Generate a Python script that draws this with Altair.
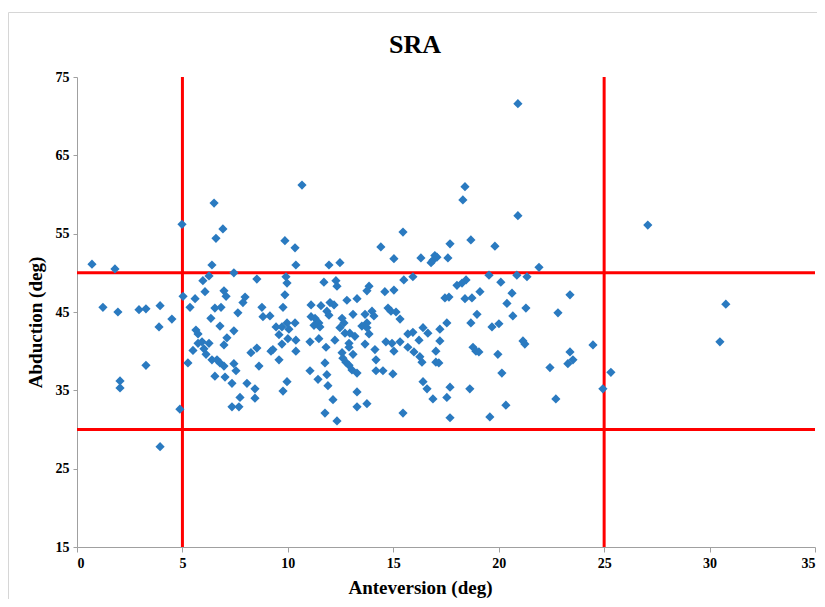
import altair as alt
import pandas as pd

anteversion = [
    6.50, 4.98, 6.92, 6.59, 0.71, 1.80, 6.40, 6.26, 5.97, 7.44,
    6.07, 6.97, 7.07, 8.53, 5.03, 5.60, 1.23, 1.94, 2.94, 3.27,
    3.94, 5.36, 6.54, 6.83, 7.97, 7.87, 7.63, 6.35, 4.50, 3.89,
    6.78, 5.64, 5.74, 7.44, 5.74, 6.26, 7.11, 6.97, 5.50, 6.02,
    6.12, 8.25, 8.53, 6.40, 6.64, 6.78, 6.97, 5.26, 7.44, 7.54,
    8.63, 3.27, 6.54, 7.02, 7.35, 8.06, 8.44, 2.04, 2.04, 7.73,
    8.44, 7.35, 7.68, 4.88, 3.94,
    10.67, 15.46, 9.86, 10.34, 14.41, 15.03, 16.31, 16.88, 17.07, 10.38,
    11.95, 12.47, 9.91, 9.96, 11.71, 12.28, 12.33, 15.50, 15.93, 13.85,
    13.75, 14.60, 15.03, 9.86, 9.77, 11.10, 11.57, 12.00, 12.19, 12.80,
    13.28, 14.75, 14.89, 15.13, 8.77, 8.82, 9.15, 11.10, 11.29, 11.47,
    11.85, 11.95, 12.57, 13.09, 13.66, 13.99, 14.08, 13.75, 15.32, 13.51,
    9.44, 9.72, 9.96, 10.05, 10.34, 11.24, 11.52, 12.47, 12.71, 12.94,
    13.18, 13.75, 13.85, 15.69, 16.41, 16.64, 9.58, 10.00, 9.72, 10.38,
    11.05, 11.47, 11.81, 12.23, 12.90, 12.90, 13.66, 14.65, 14.94, 15.32,
    15.03, 16.22, 15.69, 9.20, 9.29, 9.58, 10.38, 11.76, 12.57, 12.61,
    12.75, 12.90, 13.04, 13.28, 13.09, 14.13, 14.18, 15.98, 16.26, 16.36,
    17.02, 11.05, 11.43, 11.85, 11.90, 14.18, 14.51, 14.98, 16.41, 16.60,
    16.88, 9.96, 9.77, 12.14, 13.28, 13.28, 13.75, 11.76, 12.33, 15.46,
    18.40, 18.30, 20.91, 18.68, 17.69, 19.82, 16.97, 16.79, 17.59, 21.91,
    19.54, 20.10, 20.86, 21.34, 18.45, 18.26, 18.02, 19.11, 20.63, 23.38,
    17.45, 17.64, 18.40, 18.73, 20.39, 21.29, 18.97, 20.67, 22.81, 18.68,
    17.54, 17.21, 19.68, 20.01, 17.21, 21.15, 21.24, 24.47, 18.78, 18.92,
    19.06, 19.96, 23.38, 17.16, 23.28, 23.52, 22.43, 20.15, 17.69, 18.63,
    17.54, 22.71, 20.34, 17.69, 19.58, 24.94, 25.32, 27.07, 30.77, 30.49,
    20.91, 17.02, 12.66, 15.93, 5.93,
]

abduction = [
    58.9, 56.2, 55.6, 54.4, 51.1, 50.5, 51.0, 49.6, 49.0, 50.0,
    47.6, 47.7, 47.0, 49.2, 47.0, 46.7, 45.6, 45.0, 45.3, 45.4,
    45.8, 45.6, 45.5, 45.6, 46.9, 46.2, 44.9, 44.2, 44.1, 43.1,
    43.2, 42.7, 42.2, 42.6, 41.0, 41.0, 41.7, 40.8, 40.1, 40.3,
    39.6, 39.8, 40.4, 38.9, 38.9, 38.5, 38.1, 38.5, 38.4, 37.5,
    38.1, 38.2, 36.8, 36.7, 35.9, 35.9, 35.2, 36.2, 35.3, 34.1,
    34.0, 32.9, 32.9, 32.6, 27.8,
    61.2, 55.2, 54.1, 53.2, 53.3, 51.8, 51.9, 51.6, 52.0, 51.0,
    51.0, 51.3, 49.5, 48.7, 48.8, 49.0, 48.3, 49.1, 49.5, 48.3,
    47.7, 47.6, 47.8, 47.2, 45.6, 45.9, 45.8, 46.2, 45.9, 46.5,
    46.7, 45.5, 45.1, 45.0, 45.6, 44.4, 44.5, 44.4, 44.2, 43.6,
    45.1, 44.6, 44.2, 44.7, 44.7, 45.1, 44.5, 43.6, 44.1, 43.2,
    43.1, 43.1, 43.6, 42.8, 43.6, 43.3, 43.1, 43.0, 42.3, 42.3,
    41.9, 43.0, 42.2, 42.2, 43.0, 42.3, 42.1, 41.6, 40.9, 41.4,
    41.2, 41.6, 40.5, 41.4, 41.0, 40.5, 40.9, 41.2, 41.0, 41.2,
    40.0, 41.4, 40.5, 40.0, 40.2, 38.9, 40.0, 38.5, 39.8, 39.1,
    38.6, 38.2, 37.6, 37.2, 39.6, 40.2, 38.9, 39.9, 39.3, 38.6,
    38.6, 37.5, 36.4, 37.0, 35.6, 37.5, 37.5, 37.1, 36.1, 35.2,
    33.9, 36.1, 34.9, 33.8, 34.8, 32.9, 33.3, 32.1, 31.1, 32.1,
    61.0, 59.3, 57.3, 54.2, 53.7, 53.4, 52.2, 51.3, 51.9, 50.7,
    49.7, 48.8, 49.7, 49.5, 49.1, 48.7, 48.4, 47.6, 47.4, 47.2,
    46.8, 46.9, 46.7, 46.8, 46.1, 45.5, 44.7, 44.5, 44.9, 43.6,
    43.6, 42.8, 43.1, 43.5, 41.3, 41.3, 40.9, 40.8, 40.5, 40.0,
    39.9, 39.6, 39.9, 38.5, 38.4, 38.9, 37.9, 37.2, 35.4, 35.2,
    34.1, 33.9, 33.1, 31.5, 31.6, 35.2, 37.3, 56.1, 46.0, 41.2,
    71.6, 40.0, 43.6, 42.4, 41.2,
]

limit_x = [5, 25]
limit_y = [30, 50]
x_ticks = [0, 5, 10, 15, 20, 25, 30, 35]
y_ticks = [15, 25, 35, 45, 55, 65, 75]
chart_title = ["SRA"]

W, H = 738, 470
SERIF = "Liberation Serif"

points_df = pd.DataFrame({"Anteversion": anteversion, "Abduction": abduction})
vx_df = pd.DataFrame({"v": limit_x})
hy_df = pd.DataFrame({"h": limit_y})
title_df = pd.DataFrame({"t": chart_title})

x_scale = alt.Scale(domain=[0, 35], nice=False, zero=False)
y_scale = alt.Scale(domain=[15, 75], nice=False, zero=False)

border = alt.Chart(pd.DataFrame({"a": [0]})).mark_rect(
    fill="transparent", stroke="#d6d6d6", strokeWidth=1
).encode(
    x=alt.value(-68.5), x2=alt.value(W + 30),
    y=alt.value(-64.5), y2=alt.value(H + 80),
)

title = alt.Chart(title_df).mark_text(
    font=SERIF, fontSize=26, fontWeight="bold", color="#000000",
    align="center", baseline="middle"
).encode(
    text="t:N", x=alt.value(338), y=alt.value(-32),
)

points = alt.Chart(points_df).mark_point(
    shape="diamond", filled=True, size=85, color="#2A7AC0", opacity=1
).encode(
    x=alt.X("Anteversion:Q", scale=x_scale,
            axis=alt.Axis(values=x_ticks, title="Anteversion (deg)",
                          titleX=343, titleY=46, titleBaseline="alphabetic")),
    y=alt.Y("Abduction:Q", scale=y_scale,
            axis=alt.Axis(values=y_ticks, title="Abduction (deg)",
                          titleX=-42, titleY=245, titleAngle=-90,
                          titleBaseline="middle")),
)

vlines = alt.Chart(vx_df).mark_rule(color="#FF0000", strokeWidth=3).encode(
    x=alt.X("v:Q", scale=x_scale),
    y=alt.value(0), y2=alt.value(H),
)
hlines = alt.Chart(hy_df).mark_rule(color="#FF0000", strokeWidth=3).encode(
    y=alt.Y("h:Q", scale=y_scale),
    x=alt.value(0), x2=alt.value(W),
)

chart = alt.layer(border, title, vlines, hlines, points).properties(
    width=W, height=H,
    autosize=alt.AutoSizeParams(type="none"),
    padding={"left": 69, "top": 69, "right": 2, "bottom": 52},
).configure_view(stroke=None).configure_axis(
    grid=False,
    domainColor="#a0a0a0",
    tickColor="#a0a0a0",
    tickSize=5,
    labelFont=SERIF, labelFontSize=14, labelFontWeight="bold", labelColor="#000000",
    titleFont=SERIF, titleFontSize=19, titleFontWeight="bold", titleColor="#000000",
    labelPadding=4,
).configure_axisY(tickSize=4)

chart.save("out.html", embed_options={"renderer": "svg", "actions": False})
